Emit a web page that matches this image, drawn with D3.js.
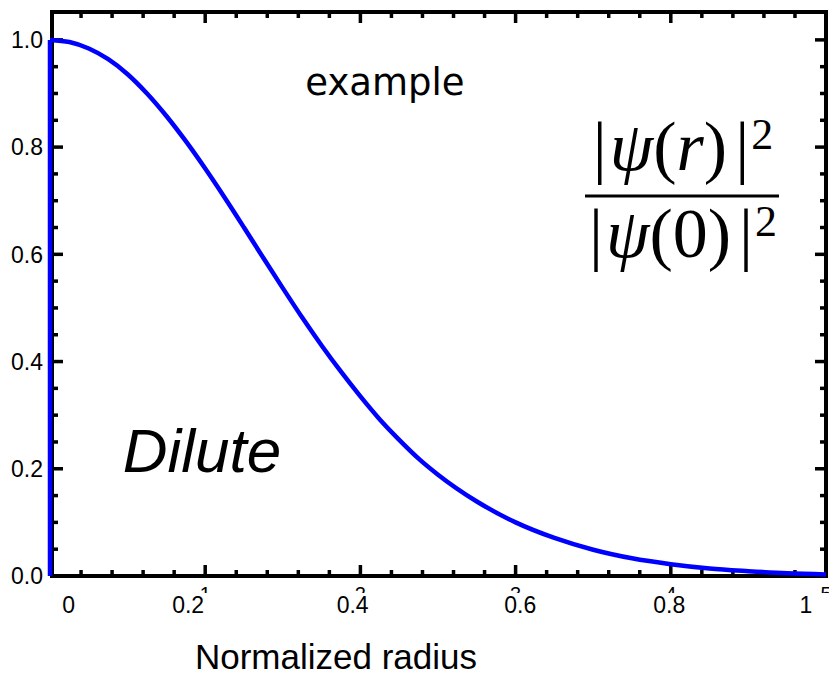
<!DOCTYPE html>
<html>
<head>
<meta charset="utf-8">
<script src="https://cdn.jsdelivr.net/npm/d3@7"></script>
<style>
  html, body { margin: 0; padding: 0; background: #fff; }
  svg { display: block; }
</style>
</head>
<body>
<svg id="chart" width="829" height="677"></svg>
<script>
// ---- data ----
const radius = [0, 0.025, 0.05, 0.075, 0.1, 0.125, 0.15, 0.175, 0.2, 0.225, 0.25, 0.275, 0.3,
  0.325, 0.35, 0.375, 0.4, 0.425, 0.45, 0.475, 0.5, 0.55, 0.6, 0.65, 0.7, 0.75, 0.8, 0.85, 0.9, 0.95, 1.0];
const density = [1.000, 0.996, 0.984, 0.964, 0.936, 0.900, 0.858, 0.811, 0.760, 0.706, 0.650, 0.593, 0.537,
  0.482, 0.430, 0.381, 0.335, 0.292, 0.254, 0.219, 0.189, 0.139, 0.100, 0.071, 0.049, 0.033, 0.022, 0.014, 0.009, 0.005, 0.003];
// vertical blue segment drawn at r = 0
const edgeRadius = [0, 0];
const edgeDensity = [0, 1];

const xMajorTicks = [0, 0.2, 0.4, 0.6, 0.8, 1.0];
const xMinorTicks = [0.04, 0.08, 0.12, 0.16, 0.24, 0.28, 0.32, 0.36, 0.44, 0.48, 0.52, 0.56, 0.64, 0.68, 0.72, 0.76, 0.84, 0.88, 0.92, 0.96];
const yMajorTicks = [0, 0.2, 0.4, 0.6, 0.8, 1.0];
const yMinorTicks = [0.05, 0.1, 0.15, 0.25, 0.3, 0.35, 0.45, 0.5, 0.55, 0.65, 0.7, 0.75, 0.85, 0.9, 0.95];
const yTickLabels = ["0.0", "0.2", "0.4", "0.6", "0.8", "1.0"];
// x tick labels as placed (by hand) in the original, anchored in data units
const xTickLabels = ["0", "0.2", "0.4", "0.6", "0.8", "1"];
const xTickLabelAt = [0.024, 0.178, 0.390, 0.606, 0.798, 0.974];
// partly hidden older labels under the new ones
const oldXLabels = ["1", "2", "3", "4", "5"];
const oldXLabelAt = [0.2, 0.4, 0.6, 0.8, 1.0];

const xTitle = "Normalized radius";
const annotation = "example";
const regimeLabel = "Dilute";

// ---- layout ----
const svg = d3.select("#chart");
const W = 829, H = 677;
const x = d3.scaleLinear().domain([0, 1]).range([50, 826]);
const y = d3.scaleLinear().domain([0, 1.052]).range([576, 12]);

const majorLen = 11, minorLen = 6, tickW = 3.5;

// frame
svg.append("rect")
  .attr("x", x(0) + 2).attr("y", y(1.052)).attr("width", x(1) - x(0) - 2).attr("height", y(0) - y(1.052))
  .attr("fill", "none").attr("stroke", "#000").attr("stroke-width", 4);

// ticks (inward on all four sides)
const gTicks = svg.append("g").attr("stroke", "#000").attr("stroke-width", tickW);
function xTicks(vals, len) {
  gTicks.selectAll(null).data(vals).join("line")
    .attr("x1", d => x(d)).attr("x2", d => x(d))
    .attr("y1", y(0)).attr("y2", y(0) - len);
  gTicks.selectAll(null).data(vals).join("line")
    .attr("x1", d => x(d)).attr("x2", d => x(d))
    .attr("y1", y(1.052)).attr("y2", y(1.052) + len);
}
function yTicks(vals, len) {
  gTicks.selectAll(null).data(vals).join("line")
    .attr("x1", x(0) + 2).attr("x2", x(0) + 2 + len)
    .attr("y1", d => y(d)).attr("y2", d => y(d));
  gTicks.selectAll(null).data(vals).join("line")
    .attr("x1", x(1)).attr("x2", x(1) - len)
    .attr("y1", d => y(d)).attr("y2", d => y(d));
}
xTicks(xMajorTicks.slice(1, -1), majorLen);
xTicks(xMinorTicks, minorLen);
yTicks(yMajorTicks.slice(1), majorLen);
yTicks(yMinorTicks, minorLen);

// curve
const line = d3.line().x(d => x(d[0])).y(d => y(d[1]));
svg.append("path")
  .datum(d3.zip(edgeRadius, edgeDensity))
  .attr("d", line)
  .attr("fill", "none").attr("stroke", "#0000ff").attr("stroke-width", 4.5);
svg.append("path")
  .datum(d3.zip(radius, density))
  .attr("d", line.curve(d3.curveMonotoneX))
  .attr("fill", "none").attr("stroke", "#0000ff").attr("stroke-width", 4.5)
  .attr("stroke-linejoin", "round");

// y tick labels
const labelFont = "'Liberation Sans', Arial, sans-serif";
svg.append("g").selectAll("text").data(yTickLabels).join("text")
  .attr("x", 43).attr("y", (d, i) => y(yMajorTicks[i]))
  .attr("dy", "0.36em")
  .attr("text-anchor", "end")
  .attr("font-family", labelFont).attr("font-size", 23).attr("fill", "#000")
  .text(d => d);

// old partly hidden labels
svg.append("clipPath").attr("id", "oldclip")
  .append("rect").attr("x", 0).attr("y", 582).attr("width", W).attr("height", 11);
svg.append("g").attr("clip-path", "url(#oldclip)")
  .selectAll("text").data(oldXLabels).join("text")
  .attr("x", (d, i) => x(oldXLabelAt[i])).attr("y", 601)
  .attr("text-anchor", "middle")
  .attr("font-family", labelFont).attr("font-size", 20).attr("fill", "#000")
  .text(d => d);

// x tick labels
svg.append("g").selectAll("text").data(xTickLabels).join("text")
  .attr("x", (d, i) => x(xTickLabelAt[i])).attr("y", 613)
  .attr("text-anchor", "middle")
  .attr("font-family", labelFont).attr("font-size", 23).attr("fill", "#000")
  .text(d => d);

// axis title
svg.append("text")
  .attr("x", 336).attr("y", 669)
  .attr("text-anchor", "middle")
  .attr("font-family", labelFont).attr("font-size", 35).attr("fill", "#000")
  .text(xTitle);

// annotations
svg.append("text")
  .attr("x", 385).attr("y", 95)
  .attr("text-anchor", "middle")
  .attr("font-family", "'DejaVu Sans', Verdana, sans-serif").attr("font-size", 37).attr("fill", "#000")
  .text(annotation);
svg.append("text")
  .attr("x", 202).attr("y", 472)
  .attr("text-anchor", "middle")
  .attr("font-family", labelFont).attr("font-style", "italic").attr("font-size", 62).attr("fill", "#000")
  .text(regimeLabel);

// formula |psi(r)|^2 / |psi(0)|^2
const serif = "'Liberation Serif', 'Times New Roman', serif";
function formulaRow(yBase, inner) {
  const t = svg.append("text")
    .attr("x", 683).attr("y", yBase)
    .attr("text-anchor", "middle")
    .attr("font-family", serif).attr("font-size", 70).attr("fill", "#000");
  t.append("tspan").text("|");
  t.append("tspan").attr("font-style", "italic").attr("dx", 3).text("\u03C8");
  t.append("tspan").text("(");
  const inn = t.append("tspan").text(inner);
  if (inner === "r") inn.attr("font-style", "italic");
  t.append("tspan").text(")");
  t.append("tspan").attr("dx", 8).text("|");
  t.append("tspan").attr("font-size", 44).attr("dy", -21).attr("dx", 2).text("2");
}
formulaRow(170, "r");
formulaRow(257, "0");
svg.append("line")
  .attr("x1", 585).attr("x2", 779).attr("y1", 196).attr("y2", 196)
  .attr("stroke", "#000").attr("stroke-width", 3);
</script>
</body>
</html>
